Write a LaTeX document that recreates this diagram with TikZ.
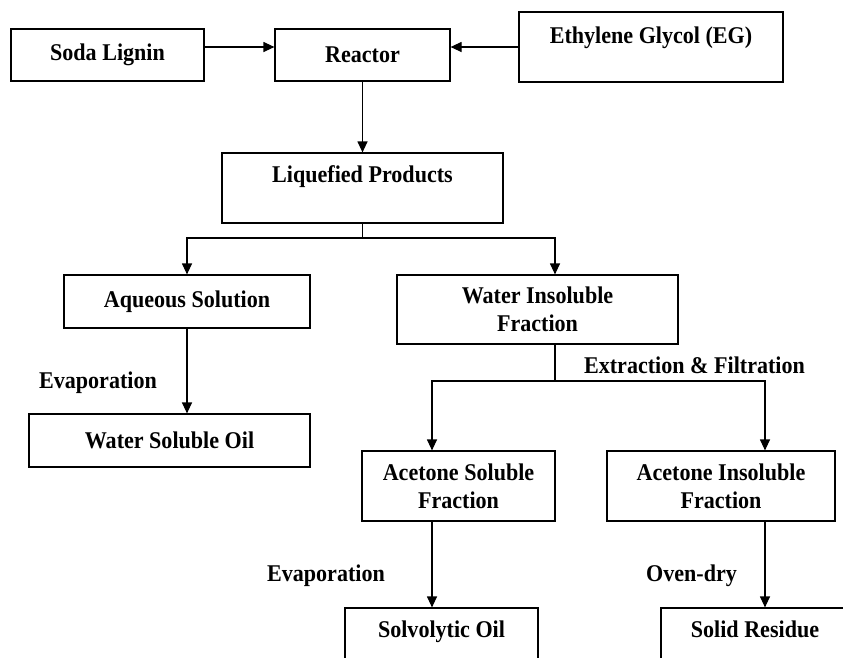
\documentclass[tikz,border=0pt]{standalone}
\usepackage{fontspec}
\setmainfont{Liberation Serif}[FakeStretch=0.92]
\usetikzlibrary{arrows.meta}
\usepackage{color}

\begin{document}
\begin{tikzpicture}[x=1pt, y=-1pt,
    block/.style={draw, line width=1.2pt, inner sep=0pt, align=center},
    note/.style={inner sep=0pt},
    every node/.style={font=\fontsize{24}{28}\selectfont\bfseries},
    flow/.style={line width=1.2pt, -{Triangle[length=11pt,width=10pt]}}]

    \clip (0,0) rectangle (843,657);

    %nodes
    \node[block, minimum width=193pt, minimum height=52pt] (soda) at (107.5,55) {Soda Lignin};
    \node[block, minimum width=175pt, minimum height=52pt] (reactor) at (362.5,55) {Reactor};
    \node[block, minimum width=264pt, minimum height=70pt] (eg) at (651,47) {Ethylene Glycol (EG)\\[-12pt] \strut};
    \node[block, minimum width=281pt, minimum height=70pt] (lp) at (362.5,188) {Liquefied Products\\[-8pt] \strut};
    \node[block, minimum width=246pt, minimum height=53pt] (aq) at (187,301.5) {Aqueous Solution};
    \node[block, minimum width=281pt, minimum height=69pt] (wif) at (537.5,309.5) {Water Insoluble\\Fraction};
    \node[block, minimum width=281pt, minimum height=53pt] (wso) at (169.5,440.5) {Water Soluble Oil};
    \node[block, minimum width=193pt, minimum height=70pt] (as) at (458.5,486) {Acetone Soluble\\Fraction};
    \node[block, minimum width=228pt, minimum height=70pt] (aif) at (721,486) {Acetone Insoluble\\Fraction};
    \node[block, minimum width=193pt, minimum height=72pt] (so) at (441.5,644) {Solvolytic Oil\\[-6pt] \strut};
    \node[block, minimum width=188pt, minimum height=72pt] (sr) at (755,644) {Solid Residue\\[-6pt] \strut};

    % labels
    \node[note] (evap1) at (98,383) {Evaporation};
    \node[note] (extr) at (694.5,365) {Extraction \& Filtration};
    \node[note] (evap2) at (326,576) {Evaporation};
    \node[note] (oven) at (691.5,576) {Oven-dry};

    \coordinate (split1) at (362.5,238);
    \coordinate (split2) at (555,381);

    % edges
    \draw[flow] ([yshift=8pt]soda.east) -- ([yshift=8pt]reactor.west);
    \draw[flow] (eg.west) -- (eg.west -| reactor.east);
    \draw[flow] (reactor.south) -- (lp.north);
    \draw[line width=1.2pt] (lp.south) -- (split1);
    \draw[flow] (split1) -| (aq.north);
    \draw[flow] (split1) -| ([xshift=17.5pt]wif.north);
    \draw[flow] (aq.south) -- (aq.south |- wso.north);
    \draw[line width=1.2pt] ([xshift=17.5pt]wif.south) -- (split2);
    \draw[flow] (split2) -| ([xshift=-26.5pt]as.north);
    \draw[flow] (split2) -| ([xshift=44pt]aif.north);
    \draw[flow] ([xshift=-26.5pt]as.south) -- ([xshift=-26.5pt]as.south |- so.north);
    \draw[flow] ([xshift=44pt]aif.south) -- ([xshift=44pt]aif.south |- sr.north);
\end{tikzpicture}
\end{document}
